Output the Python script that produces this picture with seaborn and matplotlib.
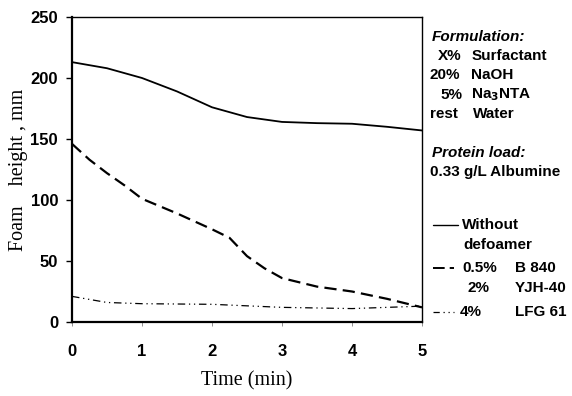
import matplotlib
matplotlib.use("Agg")
import matplotlib.pyplot as plt
import seaborn as sns
import pandas as pd
from matplotlib.lines import Line2D

# Data
time_solid = [0, 0.5, 1, 1.5, 2, 2.5, 3, 3.5, 4, 4.5, 5]
foam_without = [213, 208, 200, 189, 176, 168, 164, 163, 162.5, 160, 157]

time_dashed = [0, 0.25, 0.5, 0.75, 1, 1.5, 2, 2.25, 2.5, 2.75, 3, 3.5, 4, 4.5, 5]
foam_b840 = [146, 133, 122, 112, 101, 89, 76, 69, 54, 44, 36, 29, 25, 19, 12]

time_dashdot = [0, 0.5, 1, 2, 3, 4, 5]
foam_lfg61 = [21, 16, 15, 14.5, 12, 11, 13]

x_ticks = [0, 1, 2, 3, 4, 5]
y_ticks = [0, 50, 100, 150, 200, 250]

sns.set_theme(style="white")
plt.rcParams['font.family'] = ['Liberation Sans', 'DejaVu Sans']
plt.rcParams['text.color'] = 'black'
plt.rcParams['axes.labelcolor'] = 'black'
plt.rcParams['xtick.color'] = 'black'
plt.rcParams['ytick.color'] = 'black'

fig = plt.figure(figsize=(5.72, 3.96), dpi=100)
ax = fig.add_axes([72/572, 1-322/396, 350/572, 305/396])

df1 = pd.DataFrame({"t": time_solid, "h": foam_without})
df2 = pd.DataFrame({"t": time_dashed, "h": foam_b840})
df3 = pd.DataFrame({"t": time_dashdot, "h": foam_lfg61})

sns.lineplot(data=df1, x="t", y="h", ax=ax, color="black", lw=1.3, linestyle="-")
sns.lineplot(data=df2, x="t", y="h", ax=ax, color="black", lw=1.6)
ax.lines[-1].set_dashes([5.5, 2.8])
sns.lineplot(data=df3, x="t", y="h", ax=ax, color="black", lw=0.9)
ax.lines[-1].set_dashes([6, 3, 1, 3, 1, 3])

ax.set_xlim(0, 5)
ax.set_ylim(0, 250)
ax.set_xticks(x_ticks)
ax.set_yticks(y_ticks)
ax.set_xticklabels([str(v) for v in x_ticks], fontweight="bold", fontsize=12)
ax.set_yticklabels([str(v) for v in y_ticks], fontweight="bold", fontsize=12)
ax.tick_params(axis="y", direction="out", length=4, width=1, color="black", labelcolor="black", pad=6, left=True)
ax.tick_params(axis="x", direction="out", length=3, width=0.6, color="gray", labelcolor="black", pad=13, bottom=True)

for side in ["left", "bottom"]:
    ax.spines[side].set_linewidth(1.6)
    ax.spines[side].set_color("black")
for side in ["top", "right"]:
    ax.spines[side].set_linewidth(1.0)
    ax.spines[side].set_color("black")

ax.set_xlabel("Time (min)", family="Liberation Serif", fontsize=14.5, color="black")
ax.set_ylabel("Foam    height , mm", family="Liberation Serif", fontsize=14.5, color="black")
ax.xaxis.set_label_coords(0.5, -(381-322)/305)
ax.yaxis.set_label_coords(-(72-18)/350, 0.5)
ax.xaxis.label.set_va("center")
ax.yaxis.label.set_va("center")

# Right side text block
fs = 11
def ftxt(x, y, s, **kw):
    fig.text(x/572, 1-y/396, s, fontsize=fs, va="center", ha="left", fontweight="bold", color="black", **kw)

ftxt(432, 37, "Formulation:", style="italic")
ftxt(438, 56, "X%"); ftxt(472, 56, "Surfactant")
ftxt(430, 75, "20%"); ftxt(471, 75, "NaOH")
ftxt(440, 95, "5%"); ftxt(471, 95, "Na$_\\mathbf{3}$NTA")
ftxt(430, 114, "rest"); ftxt(473, 114, "Water")
ftxt(432, 153, "Protein load:", style="italic")
ftxt(430, 172, "0.33 g/L Albumine")

# Legend
ftxt(462, 225, "Without")
ftxt(463, 245, "defoamer")
ftxt(462, 268, "0.5%"); ftxt(515, 268, "B 840")
ftxt(467, 288, "2%"); ftxt(515, 288, "YJH-40")
ftxt(460, 312, "4%"); ftxt(515, 312, "LFG 61")

def fline(x0, x1, y, dashes=None, lw=1.0):
    ln = Line2D([x0/572, x1/572], [1-y/396, 1-y/396], color="black", lw=lw)
    if dashes:
        ln.set_dashes(dashes)
    fig.add_artist(ln)

fline(433, 458, 225, lw=1.0)
fline(433, 454, 268, dashes=[6, 2.6], lw=1.4)
fline(433, 454, 312, dashes=[5, 3, 1, 3, 1, 3], lw=0.9)

fig.savefig("out.png", dpi=100)
